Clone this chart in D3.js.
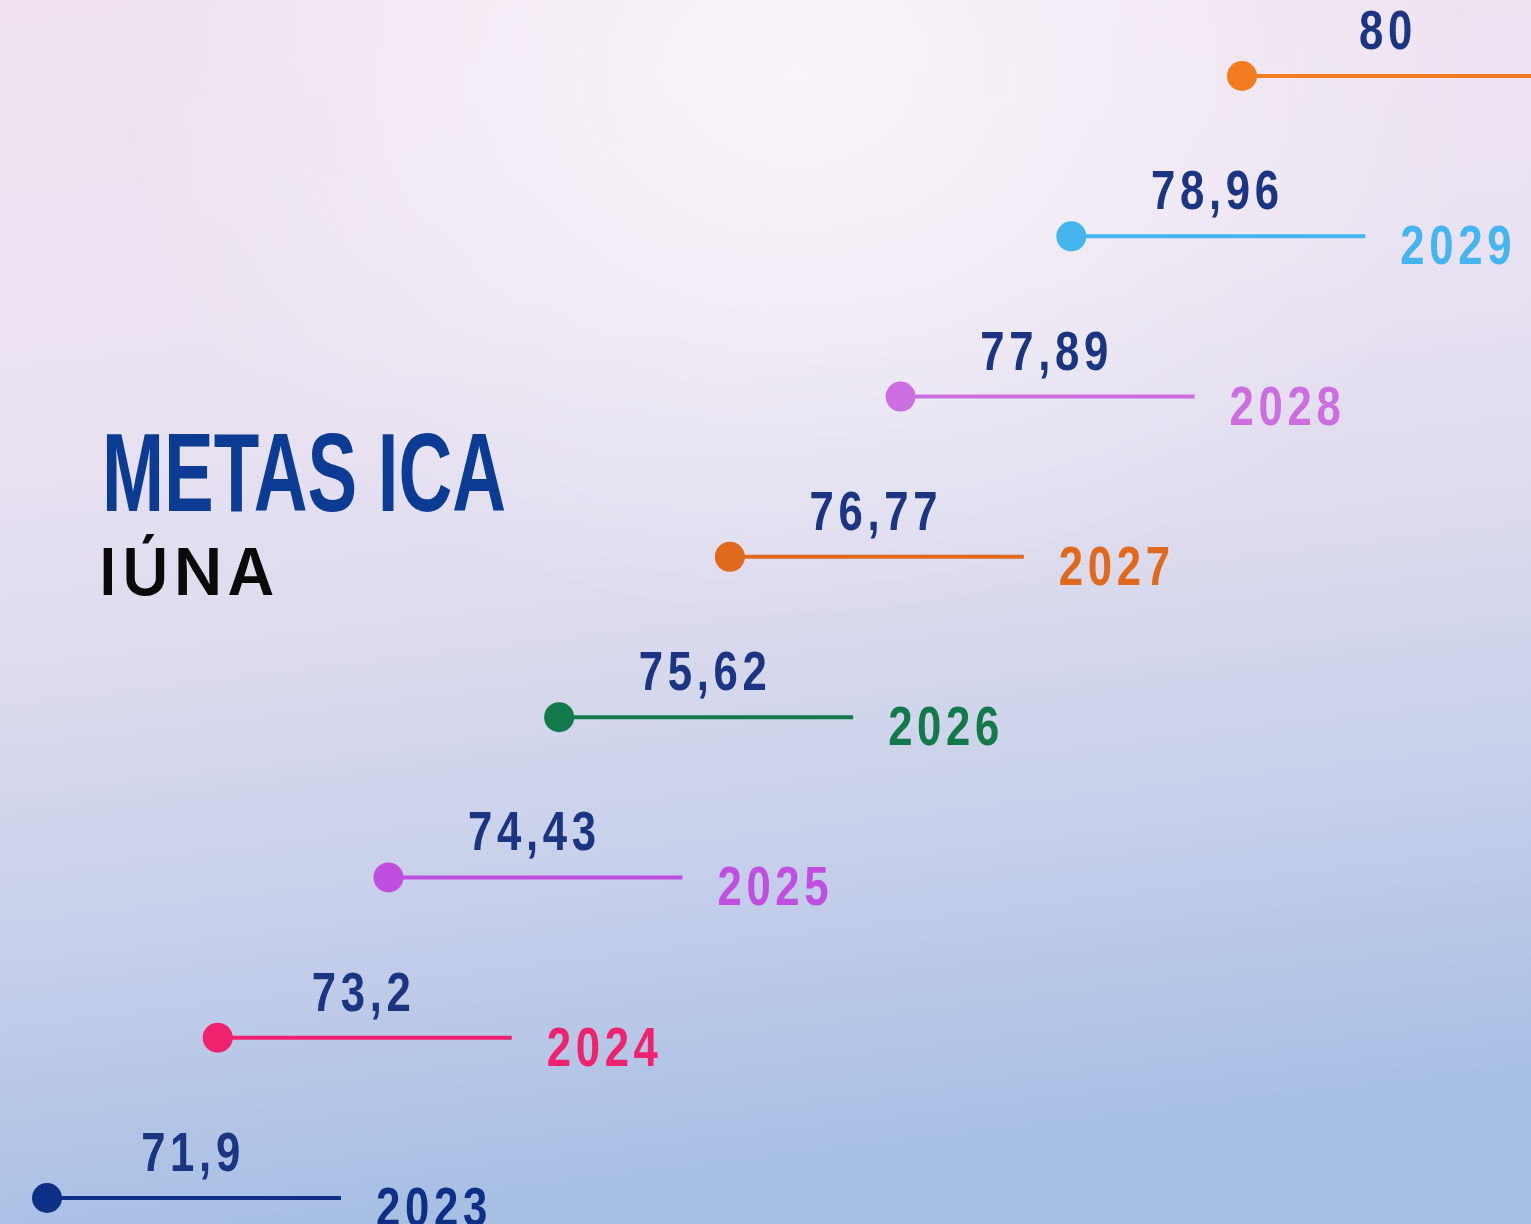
<!DOCTYPE html>
<html><head><meta charset="utf-8">
<script src="https://cdn.jsdelivr.net/npm/d3@7"></script>
<style>html,body{margin:0;padding:0;overflow:hidden;background:#e6e0ef}</style>
</head><body>
<script>
const years = [2023, 2024, 2025, 2026, 2027, 2028, 2029, 2030];
const values = [71.9, 73.2, 74.43, 75.62, 76.77, 77.89, 78.96, 80];
const valueLabels = ["71,9", "73,2", "74,43", "75,62", "76,77", "77,89", "78,96", "80"];
const colors = ["#0d2f86", "#f0226e", "#c04fe0", "#12794a", "#e0691e", "#cd6ee0", "#45b5f0", "#f47c20"];
const title = "METAS ICA";
const subtitle = "IÚNA";

const W = 1531, H = 1224;
const svg = d3.select("body").append("svg").attr("width", W).attr("height", H);
const defs = svg.append("defs");
const lg = defs.append("linearGradient").attr("id", "bg").attr("x1", 0).attr("y1", 0).attr("x2", 0.15).attr("y2", 1);
[["0%", "#f0e2f1"], ["30%", "#ece3f2"], ["55%", "#dcdbee"], ["80%", "#c2cdea"], ["100%", "#a8bfe4"]]
  .forEach(([o, c]) => lg.append("stop").attr("offset", o).attr("stop-color", c));
const rg = defs.append("radialGradient").attr("id", "glow").attr("cx", 0.52).attr("cy", 0.06).attr("r", 0.45);
rg.append("stop").attr("offset", "0%").attr("stop-color", "#ffffff").attr("stop-opacity", 0.6);
rg.append("stop").attr("offset", "100%").attr("stop-color", "#ffffff").attr("stop-opacity", 0);
svg.append("rect").attr("width", W).attr("height", H).attr("fill", "url(#bg)");
svg.append("rect").attr("width", W).attr("height", H).attr("fill", "url(#glow)");

const x = d3.scaleLinear().domain([2023, 2030]).range([47, 1242]);
const y = d3.scaleLinear().domain([2023, 2030]).range([1198, 76]);
const lineLen = 294;

const data = years.map((yr, i) => ({ year: yr, value: values[i], label: valueLabels[i], color: colors[i] }));

const g = svg.selectAll("g.item").data(data).join("g").attr("class", "item");
g.append("line")
  .attr("x1", d => x(d.year)).attr("x2", d => x(d.year) + lineLen)
  .attr("y1", d => y(d.year)).attr("y2", d => y(d.year))
  .attr("stroke", d => d.color).attr("stroke-width", 4);
g.append("circle")
  .attr("cx", d => x(d.year)).attr("cy", d => y(d.year)).attr("r", 15)
  .attr("fill", d => d.color);

const sx = 0.78;
g.append("text")
  .attr("transform", d => `translate(${x(d.year) + 146},${y(d.year) - 27}) scale(${sx},1)`)
  .attr("text-anchor", "middle")
  .attr("font-family", "Liberation Sans, Arial, sans-serif")
  .attr("font-weight", "bold").attr("font-size", 56)
  .attr("letter-spacing", 6)
  .attr("fill", "#1b3582")
  .text(d => d.label);
g.filter(d => x(d.year) + lineLen + 35 < W)
  .append("text")
  .attr("transform", d => `translate(${x(d.year) + lineLen + 35},${y(d.year) + 28}) scale(${sx},1)`)
  .attr("text-anchor", "start")
  .attr("font-family", "Liberation Sans, Arial, sans-serif")
  .attr("font-weight", "bold").attr("font-size", 56)
  .attr("letter-spacing", 6)
  .attr("fill", d => d.color)
  .text(d => d.year);

svg.append("text")
  .attr("transform", "translate(102,511) scale(0.665,1)")
  .attr("font-family", "Liberation Sans, Arial, sans-serif")
  .attr("font-weight", "bold").attr("font-size", 112)
  .attr("fill", "#0b3b93")
  .text(title);
svg.append("text")
  .attr("x", 99).attr("y", 595)
  .attr("font-family", "Inter, Lato, sans-serif")
  .attr("font-weight", 600).attr("font-size", 64)
  .attr("letter-spacing", 5)
  .attr("fill", "#0a0a0a")
  .text(subtitle);
</script>
</body></html>
